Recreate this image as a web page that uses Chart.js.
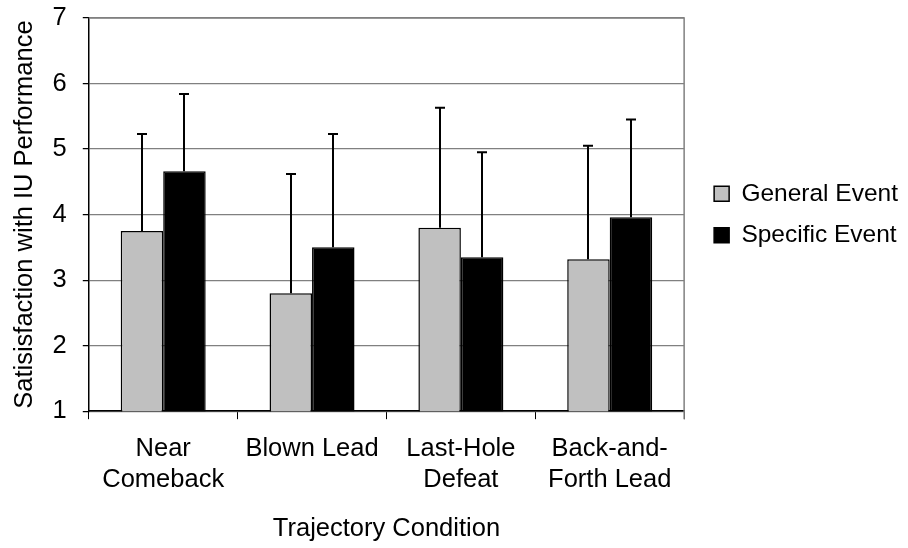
<!DOCTYPE html>
<html>
<head>
<meta charset="utf-8">
<script src="https://cdn.jsdelivr.net/npm/chart.js@4.4.0/dist/chart.umd.min.js"></script>
<style>
  html, body { margin: 0; padding: 0; background: #ffffff; }
  #wrap { width: 908px; height: 548px; }
</style>
</head>
<body>
<div id="wrap"><canvas id="c" width="908" height="548"></canvas></div>
<script>
// ---- data ----
const categories = [['Near', 'Comeback'], 'Blown Lead', ['Last-Hole', 'Defeat'], ['Back-and-', 'Forth Lead']];
const seriesNames = ['General Event', 'Specific Event'];
const generalMeans = [3.75, 2.80, 3.80, 3.32];
const generalUpper = [5.23, 4.62, 5.63, 5.05];
const specificMeans = [4.66, 3.50, 3.35, 3.96];
const specificUpper = [5.84, 5.23, 4.95, 5.45];
const yTicks = [1, 2, 3, 4, 5, 6, 7];
const xTitle = 'Trajectory Condition';
const yTitle = 'Satisisfaction with IU Performance';

const FONT = "'Liberation Sans', Arial, sans-serif";
const FS = 25.5;

const errorBarPlugin = {
  id: 'errorBars',
  afterDatasetsDraw(chart) {
    const ctx = chart.ctx;
    const yScale = chart.scales.y;
    ctx.save();
    ctx.strokeStyle = '#000000';
    ctx.lineWidth = 2;
    chart.data.datasets.forEach((ds, di) => {
      const meta = chart.getDatasetMeta(di);
      meta.data.forEach((bar, i) => {
        const upper = ds.errUpper[i];
        const yTop = yScale.getPixelForValue(upper);
        const yBase = yScale.getPixelForValue(ds.data[i]);
        const x = Math.round(bar.x);
        ctx.beginPath();
        ctx.moveTo(x, yBase);
        ctx.lineTo(x, yTop);
        ctx.moveTo(x - 5, yTop);
        ctx.lineTo(x + 5, yTop);
        ctx.stroke();
      });
    });
    ctx.restore();
  }
};

const frameBorderPlugin = {
  id: 'frameBorder',
  beforeDatasetsDraw(chart) {
    const {ctx, chartArea: a} = chart;
    ctx.save();
    ctx.strokeStyle = '#808080';
    ctx.lineWidth = 1.5;
    ctx.beginPath();
    ctx.moveTo(a.left, a.top);
    ctx.lineTo(a.right, a.top);
    ctx.lineTo(a.right, a.bottom + 8);
    ctx.stroke();
    ctx.restore();
  }
};

new Chart(document.getElementById('c'), {
  type: 'bar',
  data: {
    labels: categories,
    datasets: [
      {
        label: seriesNames[0],
        data: generalMeans,
        errUpper: generalUpper,
        backgroundColor: '#c0c0c0',
        borderColor: '#000000',
        borderWidth: 1.5,
        categoryPercentage: 0.571,
        barPercentage: 1.0
      },
      {
        label: seriesNames[1],
        data: specificMeans,
        errUpper: specificUpper,
        backgroundColor: '#000000',
        borderColor: '#000000',
        borderWidth: 1.5,
        categoryPercentage: 0.571,
        barPercentage: 1.0
      }
    ]
  },
  options: {
    responsive: false,
    animation: false,
    devicePixelRatio: 1,
    layout: { padding: { top: 18, right: 0, bottom: 4, left: 0 } },
    plugins: {
      legend: {
        position: 'right',
        fullSize: false,
        maxWidth: 260,
        labels: {
          boxWidth: 15,
          boxHeight: 15,
          padding: 17,
          color: '#000000',
          font: { family: FONT, size: 24.5 }
        }
      },
      tooltip: { enabled: false }
    },
    scales: {
      x: {
        grid: {
          display: true,
          drawOnChartArea: false,
          offset: true,
          tickLength: 8,
          tickColor: '#000000'
        },
        border: { color: '#000000', width: 1.5 },
        ticks: {
          color: '#000000',
          padding: 14,
          maxRotation: 0,
          autoSkip: false,
          font: { family: FONT, size: FS, lineHeight: 1.22 }
        },
        title: {
          display: true,
          text: xTitle,
          color: '#000000',
          padding: { top: 4, bottom: 0 },
          font: { family: FONT, size: FS }
        }
      },
      y: {
        min: yTicks[0],
        max: yTicks[yTicks.length - 1],
        afterBuildTicks(axis) { axis.ticks = yTicks.map(v => ({ value: v })); },
        grid: {
          color: '#808080',
          lineWidth: 1.2,
          tickLength: 22,
          tickColor: '#000000',
          tickBorderDash: [0, 16, 6, 100]
        },
        border: { color: '#000000', width: 1.5 },
        ticks: {
          color: '#000000',
          padding: 0,
          font: { family: FONT, size: FS }
        },
        title: {
          display: true,
          text: yTitle,
          color: '#000000',
          padding: { top: 10, bottom: 12 },
          font: { family: FONT, size: FS }
        }
      },
      y2: {
        position: 'right',
        display: true,
        grid: { display: false, drawOnChartArea: false, drawTicks: false },
        border: { display: false },
        ticks: { display: false },
        afterFit(axis) { axis.width = 13; }
      }
    }
  },
  plugins: [frameBorderPlugin, errorBarPlugin]
});
</script>
</body>
</html>
